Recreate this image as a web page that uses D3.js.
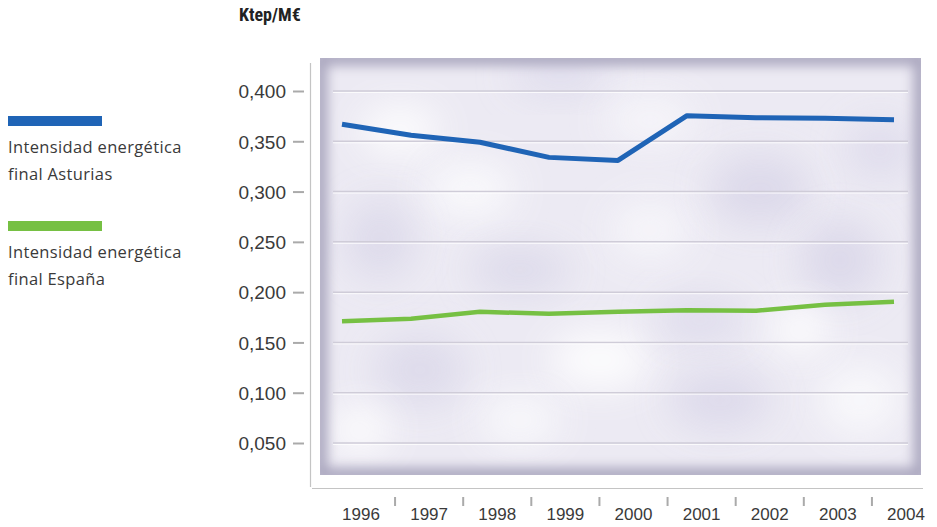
<!DOCTYPE html>
<html><head><meta charset="utf-8">
<script src="https://cdn.jsdelivr.net/npm/d3@7"></script>
<style>
html,body{margin:0;padding:0;background:#fff;}
svg{display:block;}
text{font-family:"Liberation Sans",Arial,sans-serif;}
</style></head>
<body>
<svg id="chart" width="937" height="527"></svg>
<script>
const years = ["1996","1997","1998","1999","2000","2001","2002","2003","2004"];
const asturias = [0.367,0.356,0.349,0.334,0.331,0.3755,0.3735,0.373,0.3715];
const espana = [0.171,0.1735,0.1805,0.1785,0.1805,0.182,0.1815,0.1875,0.1905];
const yTicks = [0.05,0.10,0.15,0.20,0.25,0.30,0.35,0.40];
const seriesNames = [["Intensidad energética","final Asturias"],["Intensidad energética","final España"]];
const colors = ["#1f64b6","#76c043"];

const svg = d3.select("#chart");
const defs = svg.append("defs");
const y = d3.scaleLinear().domain([0.05,0.40]).range([443,91]);
const xLine = d3.scalePoint().domain(years).range([342,894]);
const xLab = d3.scalePoint().domain(years).range([361,906]);

// panel
const P = {x:320,y:58,w:601,h:417};
defs.append("clipPath").attr("id","pclip").append("rect").attr("x",P.x).attr("y",P.y).attr("width",P.w).attr("height",P.h);
defs.append("filter").attr("id","blurBig").attr("x","-50%").attr("y","-50%").attr("width","200%").attr("height","200%")
  .append("feGaussianBlur").attr("stdDeviation",18);
defs.append("filter").attr("id","blurEdge").attr("x","-10%").attr("y","-10%").attr("width","120%").attr("height","120%")
  .append("feGaussianBlur").attr("stdDeviation",6);

const pg = svg.append("g").attr("clip-path","url(#pclip)");
pg.append("rect").attr("x",P.x).attr("y",P.y).attr("width",P.w).attr("height",P.h).attr("fill","#eceaf3");
const blobs = [
  [400,130,40,25,"#fff"],[560,75,50,20,"#dedbec"],[470,190,45,30,"#fbfbfd"],[380,240,35,40,"#dcd9ea"],
  [520,270,50,25,"#dcd9ea"],[650,230,40,30,"#f8f7fb"],[760,190,50,35,"#dad7e9"],[840,260,40,40,"#dad7e9"],
  [600,360,50,30,"#fff"],[420,370,45,35,"#dcd9ea"],[720,400,50,30,"#dbd8ea"],[860,400,40,35,"#fbfbfd"],
  [700,320,45,25,"#dedbec"],[520,420,40,25,"#fbfbfd"],[880,150,35,30,"#dedbec"],[800,330,30,25,"#fff"],
  [360,430,30,25,"#fff"],[650,120,45,25,"#f8f7fb"]
];
pg.selectAll("ellipse.blob").data(blobs).join("ellipse").attr("class","blob")
  .attr("cx",d=>d[0]).attr("cy",d=>d[1]).attr("rx",d=>d[2]).attr("ry",d=>d[3])
  .attr("fill",d=>d[4]).attr("opacity",0.85).attr("filter","url(#blurBig)");
pg.append("rect").attr("x",P.x).attr("y",P.y).attr("width",P.w).attr("height",P.h)
  .attr("fill","none").attr("stroke","#aca8c0").attr("stroke-width",15).attr("filter","url(#blurEdge)");

// grid
const grid = svg.append("g");
grid.selectAll("line.g").data(yTicks).join("line").attr("class","g")
  .attr("x1",333).attr("x2",908).attr("y1",d=>y(d)).attr("y2",d=>y(d))
  .attr("stroke","#cfccd8").attr("stroke-width",1.5);
grid.selectAll("line.gw").data(yTicks).join("line").attr("class","gw")
  .attr("x1",333).attr("x2",908).attr("y1",d=>y(d)+1.5).attr("y2",d=>y(d)+1.5)
  .attr("stroke","#ffffff").attr("stroke-width",1).attr("opacity",0.8);

// axes lines
svg.append("line").attr("x1",310.5).attr("x2",310.5).attr("y1",63).attr("y2",487).attr("stroke","#c4c4c4").attr("stroke-width",1.2);
svg.append("line").attr("x1",312).attr("x2",923).attr("y1",488.5).attr("y2",488.5).attr("stroke","#c4c4c4").attr("stroke-width",1.2);

// y axis ticks via d3 axis
const yAxis = d3.axisLeft(y).tickValues(yTicks).tickSize(11).tickPadding(7)
  .tickFormat(d=>d3.format(".3f")(d).replace(".",","));
const ya = svg.append("g").attr("transform","translate(304,0)").call(yAxis);
ya.select(".domain").remove();
ya.selectAll(".tick line").attr("stroke","#aaaaaa").attr("stroke-width",2);
ya.selectAll(".tick text").attr("fill","#3a3a3a").style("font-size","19px").attr("dy","0.36em")
  .style("font-family","'Liberation Sans',Arial,sans-serif");

// x labels
svg.append("g").selectAll("text").data(years).join("text")
  .attr("x",d=>xLab(d)).attr("y",520).attr("text-anchor","middle")
  .attr("fill","#3a3a3a").style("font-size","17px").text(d=>d);
// x ticks between labels
const step = xLab.step();
svg.append("g").selectAll("line").data(years.slice(0,-1)).join("line")
  .attr("x1",d=>xLab(d)+step/2).attr("x2",d=>xLab(d)+step/2).attr("y1",497).attr("y2",506)
  .attr("stroke","#aaaaaa").attr("stroke-width",2);

// lines
const line = d3.line().x((d,i)=>xLine(years[i])).y(d=>y(d));
[asturias,espana].forEach((s,k)=>{
  svg.append("path").datum(s).attr("d",line).attr("fill","none")
    .attr("stroke",colors[k]).attr("stroke-width",k===0?5:4.5)
    .attr("stroke-linejoin","round").attr("stroke-linecap","butt");
});

// title
svg.append("text").attr("x",239).attr("y",21).attr("fill","#222")
  .style("font-family","'Liberation Sans Narrow','Roboto Condensed','Liberation Sans',sans-serif")
  .style("font-weight","bold").style("font-size","18px").text("Ktep/M€");

// legend
const lg = svg.append("g");
seriesNames.forEach((nm,k)=>{
  const top = [116,221][k];
  lg.append("rect").attr("x",8).attr("y",top).attr("width",94).attr("height",10).attr("fill",colors[k]);
  nm.forEach((t,j)=>{
    lg.append("text").attr("x",8).attr("y",top+37+j*27).attr("fill","#3a3a3a")
      .style("font-family","'Open Sans','Noto Sans',sans-serif")
      .style("font-size","16.5px").style("letter-spacing","0.35px").text(t);
  });
});
</script>
</body></html>
